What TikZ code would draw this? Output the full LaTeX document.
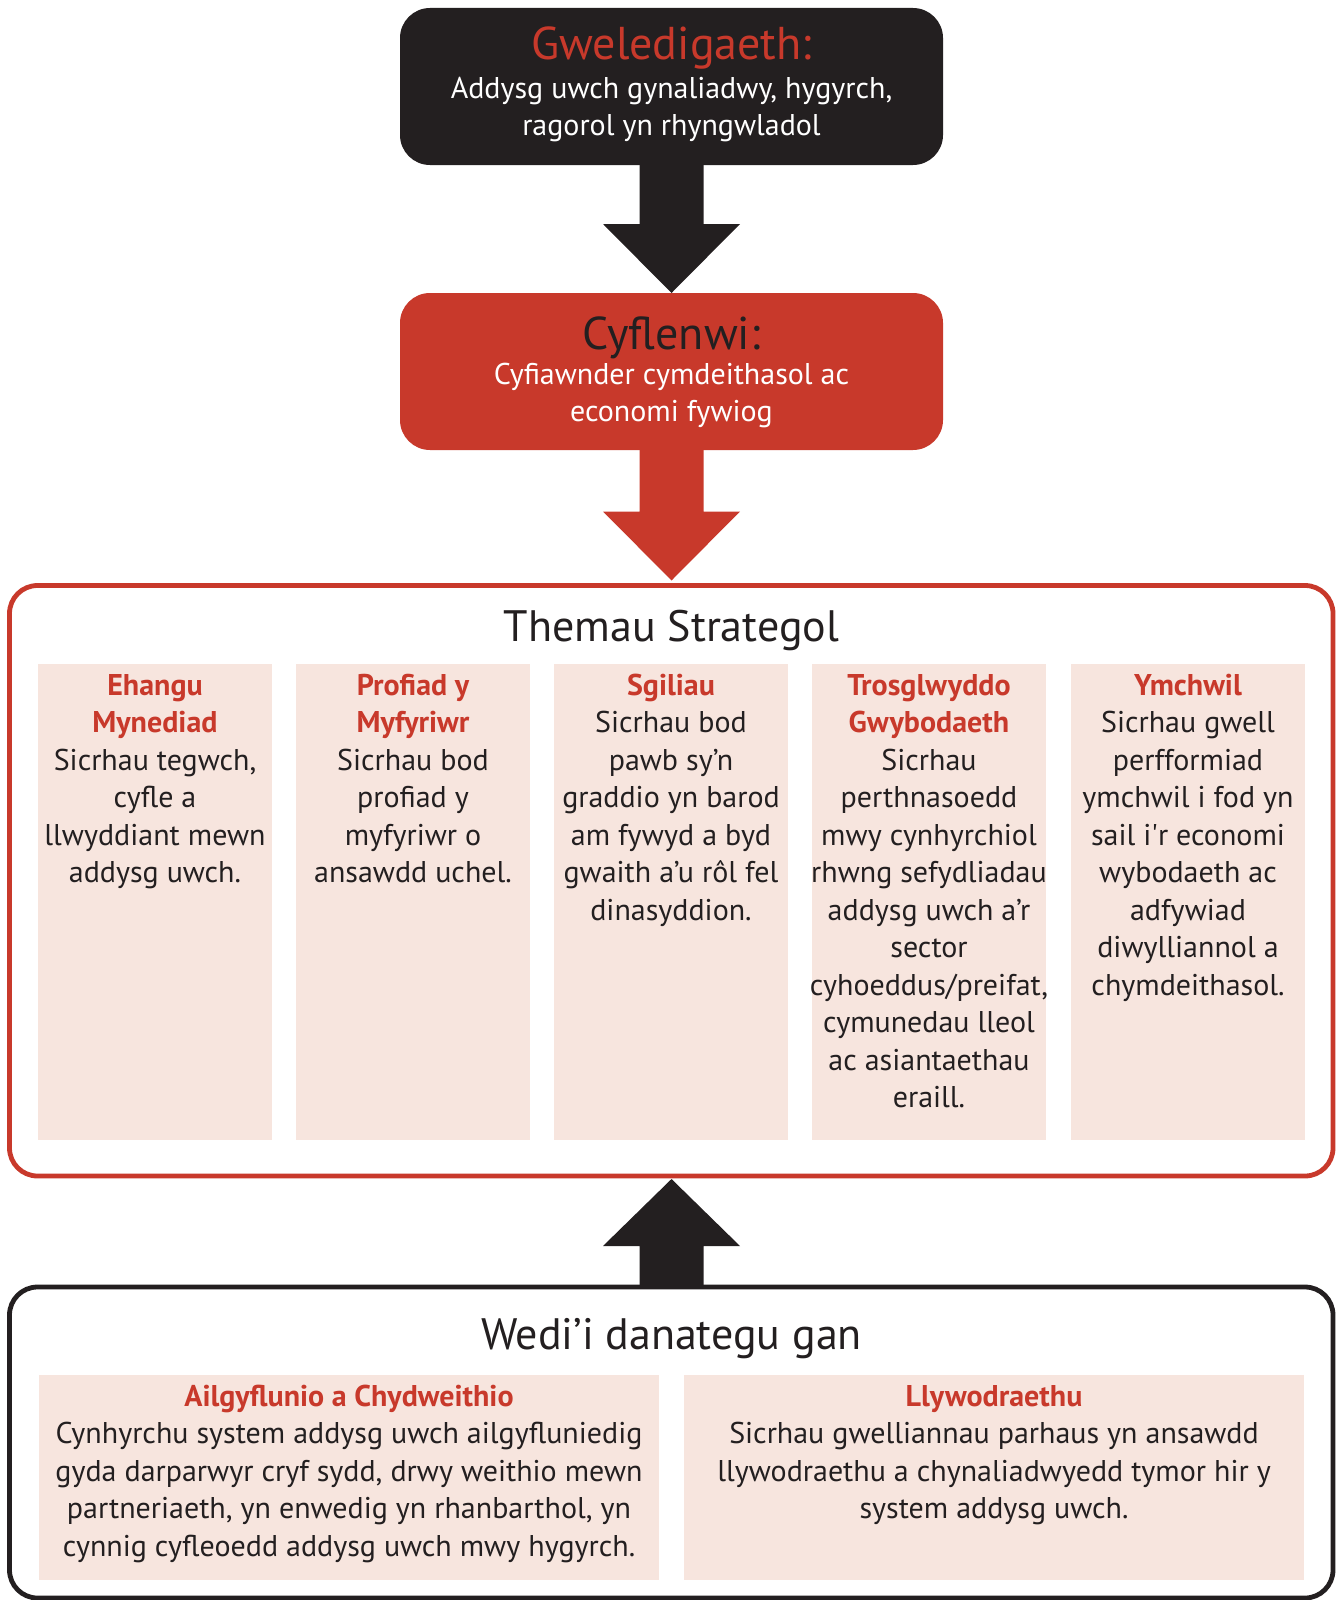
\documentclass[tikz,border=0pt]{standalone}
\usepackage{fontspec}
\setmainfont{PT Sans}
\usetikzlibrary{calc}
\definecolor{wred}{HTML}{C8392B}
\definecolor{wdark}{HTML}{231F20}
\definecolor{wpink}{HTML}{F7E5DE}
\newcommand\bodyfont{\fontsize{15}{18.75}\selectfont}
\begin{document}
\begin{tikzpicture}[x=0.5pt,y=-0.5pt,
  topbox/.style={rounded corners=15pt, inner sep=0pt, outer sep=0pt, minimum width=271.5pt, minimum height=78.5pt, anchor=north west},
  bigbox/.style={draw, line width=2.4pt, rounded corners=14pt, inner sep=0pt, outer sep=0pt, fill=white, minimum width=661.75pt, anchor=north west},
  colbox/.style={fill=wpink, inner sep=0pt, outer sep=0pt, minimum width=117pt, minimum height=238pt, anchor=north west},
  wcolbox/.style={fill=wpink, inner sep=0pt, outer sep=0pt, minimum width=310pt, minimum height=102.5pt, anchor=north west},
  coltext/.style={anchor=base, inner sep=0pt, align=center, font=\bodyfont, text=wdark},
  boxtext/.style={anchor=base, inner sep=0pt, align=center, font=\bodyfont},
  bigtitle/.style={anchor=base, inner sep=0pt, font=\fontsize{22}{26}\selectfont, text=wdark}
]
\useasboundingbox (0,0) rectangle (1336,1600);

% top boxes
\node[topbox, fill=wdark] (vis) at (400,8) {};
\node[anchor=base, inner sep=0pt, font=\fontsize{23}{27}\selectfont, text=wred] (vist) at (671.5,60) {Gweledigaeth:};
\node[boxtext, text=white] (visb) at (671.5,135.5) {Addysg uwch gynaliadwy, hygyrch,\\ragorol yn rhyngwladol};

\node[topbox, fill=wred] (del) at (400,293) {};
\node[anchor=base, inner sep=0pt, font=\fontsize{23}{27}\selectfont, text=wdark] (delt) at (671.5,349) {Cyflenwi:};
\node[boxtext, text=white] (delb) at (671.5,421.5) {Cyfiawnder cymdeithasol ac\\economi fywiog};

% themes box
\node[bigbox, draw=wred, minimum height=295.25pt] (themes) at (9.5,585.5) {};
\node[bigtitle] (themest) at (671.5,641) {Themau Strategol};

\node[colbox] (c1) at (38,664) {};
\node[colbox] (c2) at (296,664) {};
\node[colbox] (c3) at (554,664) {};
\node[colbox] (c4) at (812,664) {};
\node[colbox] (c5) at (1071,664) {};

\node[coltext] (t1) at ($(c1.north)+(0,218.5)$) {{\color{wred}\bfseries Ehangu}\\{\color{wred}\bfseries Mynediad}\\Sicrhau tegwch,\\cyfle a\\llwyddiant mewn\\addysg uwch.};
\node[coltext] (t2) at ($(c2.north)+(0,218.5)$) {{\color{wred}\bfseries Profiad y}\\{\color{wred}\bfseries Myfyriwr}\\Sicrhau bod\\profiad y\\myfyriwr o\\ansawdd uchel.};
\node[coltext] (t3) at ($(c3.north)+(0,256)$) {{\color{wred}\bfseries Sgiliau}\\Sicrhau bod\\pawb sy’n\\graddio yn barod\\am fywyd a byd\\gwaith a’u rôl fel\\dinasyddion.};
\node[coltext] (t4) at ($(c4.north)+(0,443.5)$) {{\color{wred}\bfseries Trosglwyddo}\\{\color{wred}\bfseries Gwybodaeth}\\Sicrhau\\perthnasoedd\\mwy cynhyrchiol\\rhwng sefydliadau\\addysg uwch a’r\\sector\\cyhoeddus/preifat,\\cymunedau lleol\\ac asiantaethau\\eraill.};
\node[coltext] (t5) at ($(c5.north)+(0,331)$) {{\color{wred}\bfseries Ymchwil}\\Sicrhau gwell\\perfformiad\\ymchwil i fod yn\\sail i\textquotesingle r economi\\wybodaeth ac\\adfywiad\\diwylliannol a\\chymdeithasol.};

% under box
\node[bigbox, draw=wdark, minimum height=155.5pt] (under) at (9.5,1287) {};
\node[bigtitle] (undert) at (671.5,1349) {Wedi’i danategu gan};

\node[wcolbox] (ca) at (39,1375) {};
\node[wcolbox] (cb) at (684,1375) {};
\node[coltext] (ta) at ($(ca.north)+(0,181)$) {{\color{wred}\bfseries Ailgyflunio a Chydweithio}\\Cynhyrchu system addysg uwch ailgyfluniedig\\gyda darparwyr cryf sydd, drwy weithio mewn\\partneriaeth, yn enwedig yn rhanbarthol, yn\\cynnig cyfleoedd addysg uwch mwy hygyrch.};
\node[coltext] (tb) at ($(cb.north)+(0,143.5)$) {{\color{wred}\bfseries Llywodraethu}\\Sicrhau gwelliannau parhaus yn ansawdd\\llywodraethu a chynaliadwyedd tymor hir y\\system addysg uwch.};

% big arrows
\fill[wdark] ($(vis.south)+(-32,0)$) -- ($(del.north)+(-32,-69)$) -- ($(del.north)+(-68.5,-69)$) -- (del.north) -- ($(del.north)+(68.5,-69)$) -- ($(del.north)+(32,-69)$) -- ($(vis.south)+(32,0)$) -- cycle;

\coordinate (tip2) at ($(del.south |- themes.north)+(0,-5)$);
\fill[wred] ($(del.south)+(-32,0)$) -- ($(tip2)+(-32,-69)$) -- ($(tip2)+(-68.5,-69)$) -- (tip2) -- ($(tip2)+(68.5,-69)$) -- ($(tip2)+(32,-69)$) -- ($(del.south)+(32,0)$) -- cycle;

\coordinate (tip3) at ($(del.south |- themes.south)+(0,3)$);
\coordinate (base3) at (del.south |- under.north);
\fill[wdark] ($(base3)+(-32,0)$) -- ($(tip3)+(-32,67)$) -- ($(tip3)+(-68.5,67)$) -- (tip3) -- ($(tip3)+(68.5,67)$) -- ($(tip3)+(32,67)$) -- ($(base3)+(32,0)$) -- cycle;
\end{tikzpicture}
\end{document}
